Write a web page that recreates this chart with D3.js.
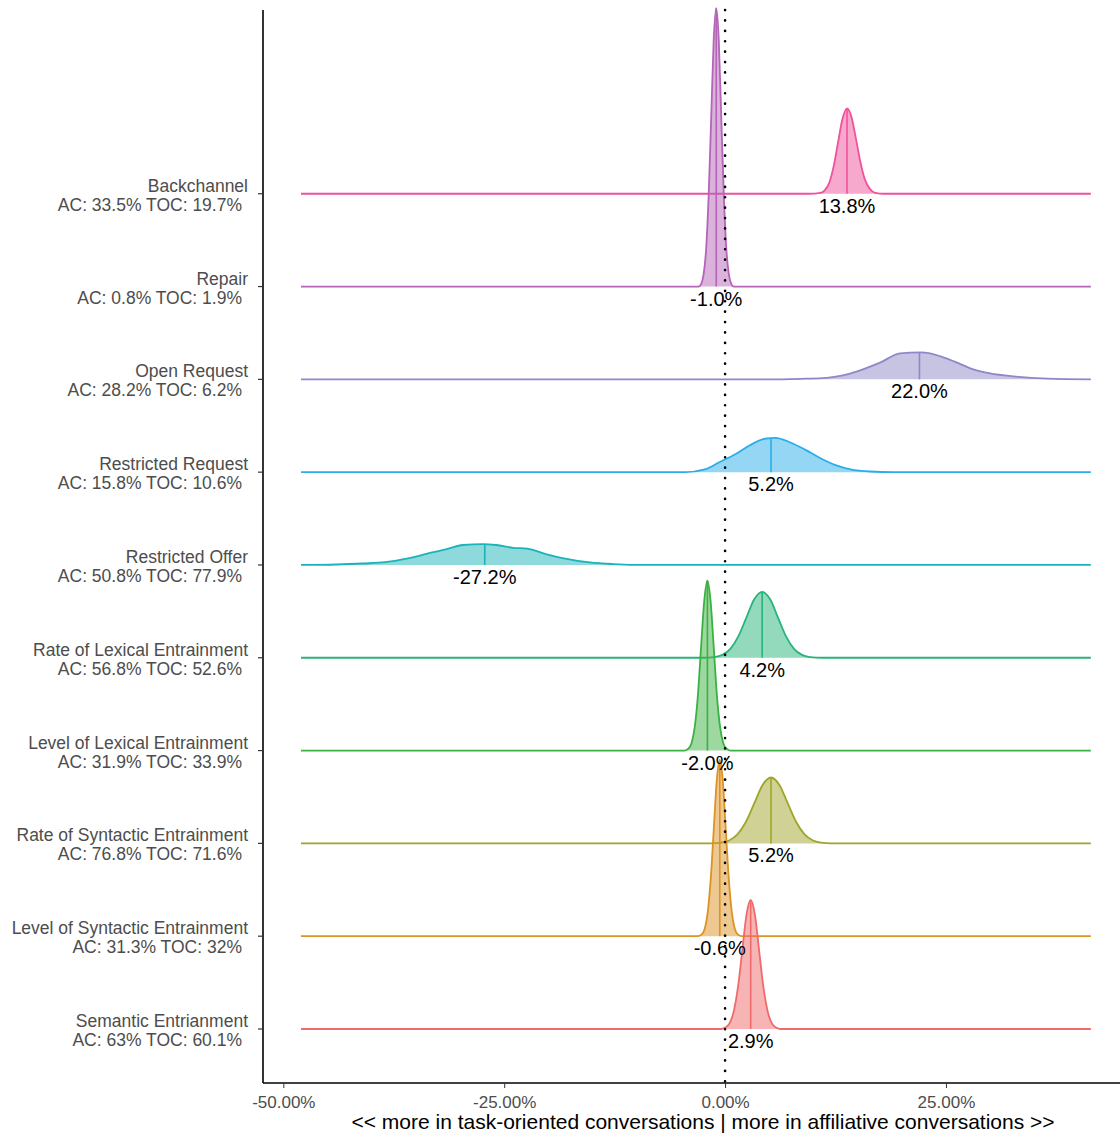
<!DOCTYPE html>
<html>
<head>
<meta charset="utf-8">
<script src="https://cdn.jsdelivr.net/npm/d3@7"></script>
<style>
  body { margin: 0; background: #fff; }
  svg { font-family: "Liberation Sans", Arial, sans-serif; }
</style>
</head>
<body>
<svg id="draw" width="1120" height="1135"></svg>
<script>
// categories, bottom (1) to top (10)
let categories = ["Semantic Entrianment", "Level of Syntactic Entrainment", "Rate of Syntactic Entrainment",
    "Level of Lexical Entrainment", "Rate of Lexical Entrainment", "Restricted Offer",
    "Restricted Request", "Open Request", "Repair", "Backchannel"];
let subLabels = ["AC: 63% TOC: 60.1%", "AC: 31.3% TOC: 32%", "AC: 76.8% TOC: 71.6%",
    "AC: 31.9% TOC: 33.9%", "AC: 56.8% TOC: 52.6%", "AC: 50.8% TOC: 77.9%",
    "AC: 15.8% TOC: 10.6%", "AC: 28.2% TOC: 6.2%", "AC: 0.8% TOC: 1.9%", "AC: 33.5% TOC: 19.7%"];
let medians = [2.9, -0.6, 5.2, -2.0, 4.2, -27.2, 5.2, 22.0, -1.0, 13.8];
let colorList = ["#f06a6a", "#dd9224", "#a0a52a", "#3bb143", "#27b47a", "#1cb3b8",
    "#2aaee8", "#8f88c8", "#b565b8", "#f0529c"];
let xTicks = [-50, -25, 0, 25];
let xRange = [-48, 41.4];

// densities: [percent, height in ridge units]
let densities = [
    [[-0.5,0],[0.02,0.015],[0.5,0.06],[0.98,0.19],[1.46,0.45],[1.94,0.84],[2.42,1.23],[2.9,1.39],[3.38,1.23],[3.86,0.84],[4.34,0.45],[4.82,0.19],[5.3,0.06],[5.78,0.015],[6.3,0]],
    [[-3.1,0],[-2.64,0.02],[-2.3,0.08],[-1.96,0.26],[-1.62,0.62],[-1.28,1.15],[-0.94,1.68],[-0.6,1.9],[-0.26,1.68],[0.08,1.15],[0.42,0.62],[0.76,0.26],[1.1,0.08],[1.44,0.02],[1.9,0]],
    [[-1.5,0],[-0.5,0.008],[0.45,0.031],[1.4,0.096],[2.35,0.23],[3.3,0.43],[4.25,0.63],[5.2,0.71],[6.15,0.63],[7.1,0.43],[8.05,0.23],[9.0,0.096],[9.95,0.031],[10.9,0.008],[12,0]],
    [[-4.6,0],[-4.16,0.02],[-3.8,0.08],[-3.44,0.25],[-3.08,0.59],[-2.72,1.11],[-2.36,1.61],[-2.0,1.83],[-1.64,1.61],[-1.28,1.11],[-0.92,0.59],[-0.56,0.25],[-0.2,0.08],[0.16,0.02],[0.6,0]],
    [[-2.5,0],[-1.2,0.008],[-0.3,0.031],[0.6,0.096],[1.5,0.23],[2.4,0.43],[3.3,0.63],[4.2,0.71],[5.1,0.63],[6.0,0.43],[6.9,0.23],[7.8,0.096],[8.7,0.031],[9.6,0.008],[11,0]],
    [[-48,0],[-44,0.005],[-41,0.016],[-38.5,0.03],[-36.5,0.06],[-35,0.09],[-33.4,0.13],[-31.5,0.17],[-29.7,0.215],[-27.4,0.225],[-25.9,0.215],[-24.0,0.185],[-22.4,0.175],[-20.2,0.115],[-18.4,0.075],[-15.3,0.028],[-12.7,0.01],[-8.8,0]],
    [[-4.5,0],[-2.3,0.03],[-0.6,0.11],[1.1,0.19],[2.8,0.29],[4.5,0.36],[5.7,0.37],[7.4,0.32],[9.1,0.24],[10.8,0.15],[12.5,0.075],[14.2,0.03],[16.4,0.007],[19,0]],
    [[5,0],[8.5,0.006],[11,0.014],[12.5,0.03],[13.8,0.054],[15.6,0.108],[17.6,0.183],[19.8,0.28],[22.1,0.29],[23.2,0.28],[24.7,0.237],[25.9,0.194],[28.1,0.108],[30.0,0.065],[32.7,0.032],[36.5,0.008],[41.4,0]],
    [[-3.0,0],[-2.7,0.03],[-2.43,0.13],[-2.14,0.41],[-1.86,0.98],[-1.57,1.82],[-1.29,2.65],[-1.0,3.0],[-0.71,2.65],[-0.43,1.82],[-0.14,0.98],[0.14,0.41],[0.43,0.13],[0.7,0.03],[1.0,0]],
    [[9.5,0],[10.8,0.01],[11.3,0.04],[11.8,0.12],[12.3,0.30],[12.8,0.56],[13.3,0.81],[13.8,0.92],[14.3,0.83],[14.8,0.60],[15.3,0.35],[15.8,0.16],[16.4,0.05],[17,0.01],[18,0]]
];

let svg = d3.select("#draw");
let mLeft = 263, mRight = 1120, mTop = 10, mBottom = 1083;

let x = d3.scaleLinear().domain([-52.3, 44.7]).range([mLeft, mRight]);
let y = d3.scaleLinear().domain([0.418, 11.98]).range([mBottom, mTop]);

function fullCurve(pts) {
    let out = [];
    if (pts[0][0] > xRange[0]) out.push([xRange[0], 0]);
    pts.forEach(p => out.push(p));
    if (pts[pts.length - 1][0] < xRange[1]) out.push([xRange[1], 0]);
    return out;
}

// value of the curve at a given x, used for the median segment
function heightAt(pts, v) {
    for (var i = 1; i < pts.length; i++) {
        if (pts[i][0] >= v) {
            let a = pts[i - 1], b = pts[i], t = (v - a[0]) / (b[0] - a[0]);
            return a[1] + t * (b[1] - a[1]);
        }
    }
    return 0;
}

// draw from top ridge down so lower ridges sit on top
let g = svg.append("g");
for (var i = categories.length - 1; i >= 0; i--) {
    let base = i + 1, pts = fullCurve(densities[i]), col = colorList[i];
    let area = d3.area().curve(d3.curveMonotoneX)
        .x(d => x(d[0])).y0(y(base)).y1(d => y(base + d[1]));
    let line = d3.line().curve(d3.curveMonotoneX)
        .x(d => x(d[0])).y(d => y(base + d[1]));
    g.append("path").datum(densities[i])
        .attr("d", area).attr("fill", col).attr("fill-opacity", 0.5);
    g.append("line")
        .attr("x1", x(medians[i])).attr("x2", x(medians[i]))
        .attr("y1", y(base)).attr("y2", y(base + heightAt(densities[i], medians[i])))
        .attr("stroke", col).attr("stroke-width", 1.6);
    g.append("path").datum(pts)
        .attr("d", line).attr("fill", "none").attr("stroke", col).attr("stroke-width", 1.8);
}

// median labels
svg.append("g").selectAll("text")
    .data(medians)
    .enter()
    .append("text")
    .attr("x", d => x(d))
    .attr("y", (d, i) => y(i + 1) + 19)
    .attr("text-anchor", "middle")
    .attr("font-size", 20)
    .attr("fill", "#000")
    .text(d => d.toFixed(1) + "%");

// zero reference line
svg.append("line")
    .attr("x1", x(0)).attr("x2", x(0)).attr("y1", mTop).attr("y2", mBottom)
    .attr("stroke", "#000").attr("stroke-width", 2.6)
    .attr("stroke-linecap", "round").attr("stroke-dasharray", "0.1,10.3");

// axes
svg.append("g")
    .attr("transform", "translate(0," + mBottom + ")")
    .call(d3.axisBottom(x).tickValues(xTicks).tickSize(5).tickFormat(d => d.toFixed(2) + "%"))
    .call(a => a.select(".domain").attr("d", "M" + mLeft + ",0H" + mRight).attr("stroke-width", 1.6))
    .call(a => a.selectAll("text").attr("font-size", 17).attr("fill", "#4d4d4d").attr("dy", "1.0em")
        .attr("font-family", "'Liberation Sans', Arial, sans-serif"))
    .call(a => a.selectAll(".tick line").attr("stroke", "#333"));

let yAxis = svg.append("g").attr("transform", "translate(" + mLeft + ",0)");
yAxis.append("line").attr("x1", 0).attr("x2", 0).attr("y1", mTop).attr("y2", mBottom)
    .attr("stroke", "#000").attr("stroke-width", 1.6);
categories.forEach((c, i) => {
    let yy = y(i + 1);
    yAxis.append("line").attr("x1", -5).attr("x2", 0).attr("y1", yy).attr("y2", yy)
        .attr("stroke", "#333").attr("stroke-width", 1.2);
    yAxis.append("text").attr("x", -15).attr("y", yy - 2)
        .attr("text-anchor", "end").attr("font-size", 17.5).attr("fill", "#4d4d4d").text(c);
    yAxis.append("text").attr("x", -21).attr("y", yy + 17)
        .attr("text-anchor", "end").attr("font-size", 17.5).attr("fill", "#4d4d4d").text(subLabels[i]);
});

svg.append("text")
    .attr("x", 703).attr("y", 1129)
    .attr("text-anchor", "middle").attr("font-size", 21).attr("fill", "#000")
    .text("<< more in task-oriented conversations | more in affiliative conversations >>");
</script>
</body>
</html>
